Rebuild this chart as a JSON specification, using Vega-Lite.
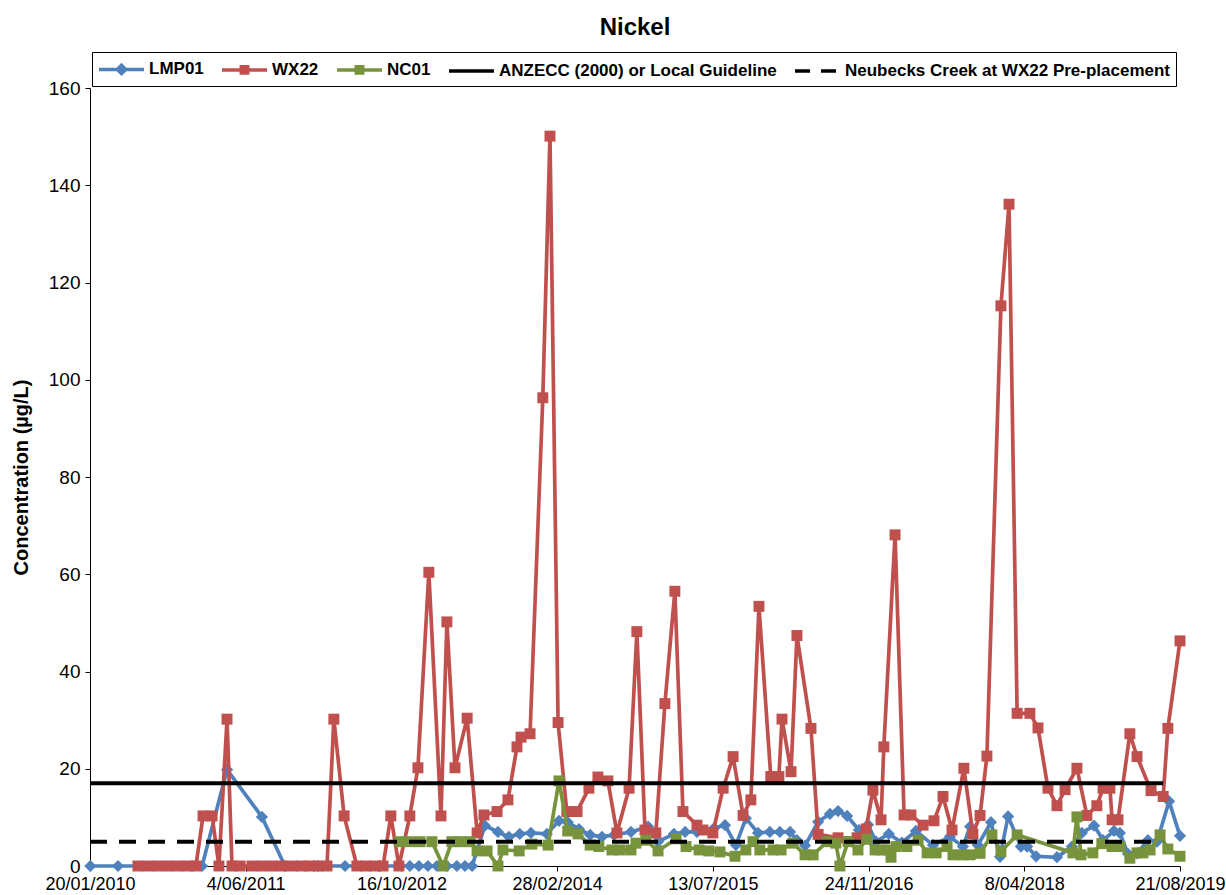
{
"$schema": "https://vega.github.io/schema/vega-lite/v6.json",
"width": 1090, "height": 778,
"autosize": {"type": "none"},
"padding": {"left": 90, "top": 88, "right": 46, "bottom": 29},
"background": "white",
"title": {"text": "Nickel", "font": "Liberation Sans", "fontSize": 24, "fontWeight": "bold", "color": "black", "anchor": "middle", "offset": 12},
"config": {"view": {"stroke": null}},
"datasets": {
"samples": [
{"series":"LMP01","date":"2010-01-21","value":0},{"series":"LMP01","date":"2010-04-20","value":0},{"series":"LMP01","date":"2011-01-15","value":0},{"series":"LMP01","date":"2011-04-05","value":19.8},{"series":"LMP01","date":"2011-07-26","value":10.1},{"series":"LMP01","date":"2011-10-08","value":0},{"series":"LMP01","date":"2012-01-22","value":0},{"series":"LMP01","date":"2012-04-18","value":0},{"series":"LMP01","date":"2012-08-08","value":0},{"series":"LMP01","date":"2012-11-12","value":0},{"series":"LMP01","date":"2012-12-11","value":0},{"series":"LMP01","date":"2013-01-09","value":0},{"series":"LMP01","date":"2013-02-07","value":0},{"series":"LMP01","date":"2013-03-11","value":0},{"series":"LMP01","date":"2013-04-12","value":0},{"series":"LMP01","date":"2013-05-08","value":0},{"series":"LMP01","date":"2013-05-31","value":0},{"series":"LMP01","date":"2013-07-11","value":8.3},{"series":"LMP01","date":"2013-08-22","value":7},{"series":"LMP01","date":"2013-09-26","value":6},{"series":"LMP01","date":"2013-10-31","value":6.6},{"series":"LMP01","date":"2013-12-06","value":6.8},{"series":"LMP01","date":"2014-01-26","value":6.6},{"series":"LMP01","date":"2014-03-06","value":9.3},{"series":"LMP01","date":"2014-04-03","value":9},{"series":"LMP01","date":"2014-05-09","value":7.6},{"series":"LMP01","date":"2014-06-14","value":6.4},{"series":"LMP01","date":"2014-07-22","value":6},{"series":"LMP01","date":"2014-08-30","value":6.4},{"series":"LMP01","date":"2014-10-23","value":7},{"series":"LMP01","date":"2014-12-17","value":8.1},{"series":"LMP01","date":"2015-01-18","value":5},{"series":"LMP01","date":"2015-03-10","value":6.6},{"series":"LMP01","date":"2015-04-15","value":7},{"series":"LMP01","date":"2015-05-23","value":7},{"series":"LMP01","date":"2015-07-17","value":7.8},{"series":"LMP01","date":"2015-08-21","value":8.4},{"series":"LMP01","date":"2015-09-25","value":4.3},{"series":"LMP01","date":"2015-10-27","value":9.8},{"series":"LMP01","date":"2015-12-05","value":6.8},{"series":"LMP01","date":"2016-01-12","value":7},{"series":"LMP01","date":"2016-02-13","value":7},{"series":"LMP01","date":"2016-03-17","value":7},{"series":"LMP01","date":"2016-04-08","value":5.3},{"series":"LMP01","date":"2016-05-04","value":4.2},{"series":"LMP01","date":"2016-06-15","value":9.1},{"series":"LMP01","date":"2016-07-23","value":10.7},{"series":"LMP01","date":"2016-08-18","value":11.3},{"series":"LMP01","date":"2016-09-16","value":10.3},{"series":"LMP01","date":"2016-10-24","value":7.4},{"series":"LMP01","date":"2016-11-22","value":8.5},{"series":"LMP01","date":"2016-12-18","value":5},{"series":"LMP01","date":"2017-01-28","value":6.6},{"series":"LMP01","date":"2017-03-11","value":4.8},{"series":"LMP01","date":"2017-04-25","value":7.2},{"series":"LMP01","date":"2017-06-19","value":4.3},{"series":"LMP01","date":"2017-08-12","value":6},{"series":"LMP01","date":"2017-09-23","value":4},{"series":"LMP01","date":"2017-10-16","value":8.1},{"series":"LMP01","date":"2017-11-10","value":4.3},{"series":"LMP01","date":"2017-12-22","value":9},{"series":"LMP01","date":"2018-01-20","value":1.9},{"series":"LMP01","date":"2018-02-15","value":10.2},{"series":"LMP01","date":"2018-03-28","value":4},{"series":"LMP01","date":"2018-04-17","value":4},{"series":"LMP01","date":"2018-05-16","value":2},{"series":"LMP01","date":"2018-07-22","value":1.8},{"series":"LMP01","date":"2018-09-08","value":4},{"series":"LMP01","date":"2018-10-10","value":6.8},{"series":"LMP01","date":"2018-11-18","value":8.3},{"series":"LMP01","date":"2018-12-17","value":5.3},{"series":"LMP01","date":"2019-01-21","value":7.2},{"series":"LMP01","date":"2019-02-09","value":6.8},{"series":"LMP01","date":"2019-03-07","value":2.5},{"series":"LMP01","date":"2019-04-05","value":2.6},{"series":"LMP01","date":"2019-05-10","value":5.3},{"series":"LMP01","date":"2019-06-08","value":5},{"series":"LMP01","date":"2019-07-17","value":13.3},{"series":"LMP01","date":"2019-08-21","value":6.2},
{"series":"WX22","date":"2010-06-23","value":0},{"series":"WX22","date":"2010-07-25","value":0},{"series":"WX22","date":"2010-08-26","value":0},{"series":"WX22","date":"2010-09-27","value":0},{"series":"WX22","date":"2010-10-29","value":0},{"series":"WX22","date":"2010-11-30","value":0},{"series":"WX22","date":"2010-12-26","value":0},{"series":"WX22","date":"2011-01-18","value":10.3},{"series":"WX22","date":"2011-02-16","value":10.3},{"series":"WX22","date":"2011-03-10","value":0},{"series":"WX22","date":"2011-04-05","value":30.2},{"series":"WX22","date":"2011-04-21","value":0},{"series":"WX22","date":"2011-05-17","value":0},{"series":"WX22","date":"2011-06-24","value":0},{"series":"WX22","date":"2011-07-26","value":0},{"series":"WX22","date":"2011-08-27","value":0},{"series":"WX22","date":"2011-09-28","value":0},{"series":"WX22","date":"2011-10-31","value":0},{"series":"WX22","date":"2011-12-01","value":0},{"series":"WX22","date":"2011-12-27","value":0},{"series":"WX22","date":"2012-01-22","value":0},{"series":"WX22","date":"2012-02-20","value":0},{"series":"WX22","date":"2012-03-13","value":30.2},{"series":"WX22","date":"2012-04-15","value":10.3},{"series":"WX22","date":"2012-05-26","value":0},{"series":"WX22","date":"2012-06-24","value":0},{"series":"WX22","date":"2012-07-23","value":0},{"series":"WX22","date":"2012-08-18","value":0},{"series":"WX22","date":"2012-09-12","value":10.3},{"series":"WX22","date":"2012-10-08","value":0},{"series":"WX22","date":"2012-11-12","value":10.3},{"series":"WX22","date":"2012-12-08","value":20.2},{"series":"WX22","date":"2013-01-12","value":60.4},{"series":"WX22","date":"2013-02-20","value":10.3},{"series":"WX22","date":"2013-03-11","value":50.2},{"series":"WX22","date":"2013-04-06","value":20.2},{"series":"WX22","date":"2013-05-15","value":30.4},{"series":"WX22","date":"2013-06-16","value":6.8},{"series":"WX22","date":"2013-07-08","value":10.5},{"series":"WX22","date":"2013-08-19","value":11.2},{"series":"WX22","date":"2013-09-23","value":13.6},{"series":"WX22","date":"2013-10-22","value":24.5},{"series":"WX22","date":"2013-11-04","value":26.5},{"series":"WX22","date":"2013-12-03","value":27.2},{"series":"WX22","date":"2014-01-13","value":96.3},{"series":"WX22","date":"2014-02-05","value":150.1},{"series":"WX22","date":"2014-03-03","value":29.5},{"series":"WX22","date":"2014-03-31","value":11.2},{"series":"WX22","date":"2014-05-03","value":11.2},{"series":"WX22","date":"2014-06-10","value":16},{"series":"WX22","date":"2014-07-09","value":18.3},{"series":"WX22","date":"2014-08-10","value":17.5},{"series":"WX22","date":"2014-09-08","value":6.8},{"series":"WX22","date":"2014-10-17","value":16},{"series":"WX22","date":"2014-11-11","value":48.2},{"series":"WX22","date":"2014-12-07","value":7.4},{"series":"WX22","date":"2015-01-11","value":6.8},{"series":"WX22","date":"2015-02-09","value":33.4},{"series":"WX22","date":"2015-03-13","value":56.5},{"series":"WX22","date":"2015-04-08","value":11.2},{"series":"WX22","date":"2015-05-23","value":8.4},{"series":"WX22","date":"2015-06-11","value":7.4},{"series":"WX22","date":"2015-07-13","value":6.8},{"series":"WX22","date":"2015-08-15","value":16},{"series":"WX22","date":"2015-09-16","value":22.5},{"series":"WX22","date":"2015-10-18","value":10.4},{"series":"WX22","date":"2015-11-12","value":13.6},{"series":"WX22","date":"2015-12-08","value":53.4},{"series":"WX22","date":"2016-01-15","value":18.4},{"series":"WX22","date":"2016-02-10","value":18.4},{"series":"WX22","date":"2016-02-20","value":30.2},{"series":"WX22","date":"2016-03-20","value":19.4},{"series":"WX22","date":"2016-04-08","value":47.4},{"series":"WX22","date":"2016-05-23","value":28.3},{"series":"WX22","date":"2016-06-15","value":6.5},{"series":"WX22","date":"2016-08-18","value":5.8},{"series":"WX22","date":"2016-10-18","value":5.8},{"series":"WX22","date":"2016-11-16","value":7.6},{"series":"WX22","date":"2016-12-08","value":15.6},{"series":"WX22","date":"2017-01-03","value":9.5},{"series":"WX22","date":"2017-01-12","value":24.5},{"series":"WX22","date":"2017-02-17","value":68.1},{"series":"WX22","date":"2017-03-18","value":10.5},{"series":"WX22","date":"2017-04-09","value":10.5},{"series":"WX22","date":"2017-05-18","value":8.4},{"series":"WX22","date":"2017-06-22","value":9.3},{"series":"WX22","date":"2017-07-21","value":14.3},{"series":"WX22","date":"2017-08-19","value":7.4},{"series":"WX22","date":"2017-09-26","value":20.1},{"series":"WX22","date":"2017-10-25","value":6.6},{"series":"WX22","date":"2017-11-17","value":10.4},{"series":"WX22","date":"2017-12-09","value":22.6},{"series":"WX22","date":"2018-01-23","value":115.2},{"series":"WX22","date":"2018-02-18","value":136.1},{"series":"WX22","date":"2018-03-16","value":31.4},{"series":"WX22","date":"2018-04-26","value":31.4},{"series":"WX22","date":"2018-05-22","value":28.4},{"series":"WX22","date":"2018-06-23","value":16},{"series":"WX22","date":"2018-07-22","value":12.4},{"series":"WX22","date":"2018-08-17","value":15.7},{"series":"WX22","date":"2018-09-24","value":20.1},{"series":"WX22","date":"2018-10-26","value":10.4},{"series":"WX22","date":"2018-11-27","value":12.4},{"series":"WX22","date":"2018-12-17","value":16},{"series":"WX22","date":"2019-01-08","value":16},{"series":"WX22","date":"2019-01-15","value":9.5},{"series":"WX22","date":"2019-02-03","value":9.5},{"series":"WX22","date":"2019-03-13","value":27.2},{"series":"WX22","date":"2019-04-05","value":22.5},{"series":"WX22","date":"2019-05-20","value":15.5},{"series":"WX22","date":"2019-06-28","value":14.3},{"series":"WX22","date":"2019-07-13","value":28.3},{"series":"WX22","date":"2019-08-21","value":46.3},
{"series":"NC01","date":"2012-10-11","value":5},{"series":"NC01","date":"2012-11-12","value":5},{"series":"NC01","date":"2012-12-15","value":5},{"series":"NC01","date":"2013-01-22","value":5},{"series":"NC01","date":"2013-02-27","value":0},{"series":"NC01","date":"2013-03-27","value":5},{"series":"NC01","date":"2013-04-22","value":5},{"series":"NC01","date":"2013-05-24","value":5},{"series":"NC01","date":"2013-06-16","value":3.1},{"series":"NC01","date":"2013-07-18","value":3.1},{"series":"NC01","date":"2013-08-22","value":0},{"series":"NC01","date":"2013-09-07","value":3.3},{"series":"NC01","date":"2013-10-29","value":3.1},{"series":"NC01","date":"2013-12-09","value":4.5},{"series":"NC01","date":"2014-01-30","value":4.3},{"series":"NC01","date":"2014-03-06","value":17.5},{"series":"NC01","date":"2014-04-03","value":7.2},{"series":"NC01","date":"2014-05-06","value":6.6},{"series":"NC01","date":"2014-06-14","value":4.3},{"series":"NC01","date":"2014-07-12","value":4},{"series":"NC01","date":"2014-08-23","value":3.3},{"series":"NC01","date":"2014-09-18","value":3.3},{"series":"NC01","date":"2014-10-23","value":3.3},{"series":"NC01","date":"2014-11-08","value":4.7},{"series":"NC01","date":"2014-12-10","value":5.3},{"series":"NC01","date":"2015-01-18","value":3.1},{"series":"NC01","date":"2015-03-17","value":5.6},{"series":"NC01","date":"2015-04-18","value":4},{"series":"NC01","date":"2015-05-30","value":3.3},{"series":"NC01","date":"2015-06-30","value":3.1},{"series":"NC01","date":"2015-08-05","value":2.9},{"series":"NC01","date":"2015-09-22","value":2},{"series":"NC01","date":"2015-10-27","value":3.3},{"series":"NC01","date":"2015-11-19","value":5},{"series":"NC01","date":"2015-12-11","value":3.3},{"series":"NC01","date":"2016-01-22","value":3.3},{"series":"NC01","date":"2016-02-17","value":3.3},{"series":"NC01","date":"2016-03-26","value":4.7},{"series":"NC01","date":"2016-05-04","value":2.3},{"series":"NC01","date":"2016-05-30","value":2.3},{"series":"NC01","date":"2016-07-14","value":5},{"series":"NC01","date":"2016-08-11","value":4.7},{"series":"NC01","date":"2016-08-24","value":0},{"series":"NC01","date":"2016-09-19","value":5},{"series":"NC01","date":"2016-10-21","value":3.3},{"series":"NC01","date":"2016-11-19","value":5.5},{"series":"NC01","date":"2016-12-15","value":3.3},{"series":"NC01","date":"2017-01-06","value":3.3},{"series":"NC01","date":"2017-01-25","value":3.3},{"series":"NC01","date":"2017-02-04","value":1.8},{"series":"NC01","date":"2017-02-20","value":4},{"series":"NC01","date":"2017-03-27","value":4},{"series":"NC01","date":"2017-05-02","value":5.3},{"series":"NC01","date":"2017-05-31","value":2.7},{"series":"NC01","date":"2017-06-29","value":2.7},{"series":"NC01","date":"2017-08-03","value":4},{"series":"NC01","date":"2017-08-22","value":2.3},{"series":"NC01","date":"2017-09-20","value":2.3},{"series":"NC01","date":"2017-10-16","value":2.3},{"series":"NC01","date":"2017-11-17","value":2.6},{"series":"NC01","date":"2017-12-25","value":6.4},{"series":"NC01","date":"2018-01-23","value":3},{"series":"NC01","date":"2018-03-16","value":6.4},{"series":"NC01","date":"2018-09-11","value":2.7},{"series":"NC01","date":"2018-09-24","value":10.1},{"series":"NC01","date":"2018-10-07","value":2.3},{"series":"NC01","date":"2018-11-14","value":2.7},{"series":"NC01","date":"2018-12-13","value":4.6},{"series":"NC01","date":"2019-01-15","value":4},{"series":"NC01","date":"2019-02-09","value":4},{"series":"NC01","date":"2019-03-13","value":1.6},{"series":"NC01","date":"2019-04-05","value":2.7},{"series":"NC01","date":"2019-04-24","value":2.7},{"series":"NC01","date":"2019-05-17","value":3.3},{"series":"NC01","date":"2019-06-18","value":6.4},{"series":"NC01","date":"2019-07-13","value":3.5},{"series":"NC01","date":"2019-08-21","value":2}
],
"guides": [
{"series":"ANZECC (2000) or Local Guideline","date":"2010-01-20","end":"2019-06-28","value":17},
{"series":"Neubecks Creek at WX22 Pre-placement","date":"2010-01-20","end":"2019-06-28","value":5}
]
},
"encoding": {
"x": {"field": "date", "type": "temporal",
 "scale": {"type": "utc", "domain": [{"year": 2010, "month": 1, "date": 20, "utc": true}, {"year": 2019, "month": 8, "date": 21, "utc": true}]},
 "axis": {"title": null, "grid": false, "labelExpr": "utcFormat(datum.value, '%-d/%m/%Y')",
  "values": [{"year": 2010, "month": 1, "date": 20, "utc": true}, {"year": 2011, "month": 6, "date": 4, "utc": true}, {"year": 2012, "month": 10, "date": 16, "utc": true}, {"year": 2014, "month": 2, "date": 28, "utc": true}, {"year": 2015, "month": 7, "date": 13, "utc": true}, {"year": 2016, "month": 11, "date": 24, "utc": true}, {"year": 2018, "month": 4, "date": 8, "utc": true}, {"year": 2019, "month": 8, "date": 21, "utc": true}],
  "labelFont": "Liberation Sans", "labelFontSize": 18, "labelColor": "black", "labelFlush": false, "labelOverlap": false, "labelBound": false,
  "domainColor": "black", "domainWidth": 1, "tickColor": "black", "tickSize": 5, "labelPadding": 4}},
"y": {"field": "value", "type": "quantitative",
 "scale": {"domain": [0, 160], "nice": false, "zero": true},
 "axis": {"title": "Concentration (µg/L)", "titleFont": "Liberation Sans", "titleFontSize": 20, "titleFontWeight": "bold", "titleColor": "black", "titlePadding": 17,
  "grid": false, "values": [0, 20, 40, 60, 80, 100, 120, 140, 160],
  "labelFont": "Liberation Sans", "labelFontSize": 19, "labelColor": "black", "labelPadding": 5,
  "domainColor": "black", "domainWidth": 1, "tickColor": "black", "tickSize": 5}},
"color": {"field": "series", "type": "nominal",
 "scale": {"domain": ["LMP01", "WX22", "NC01", "ANZECC (2000) or Local Guideline", "Neubecks Creek at WX22 Pre-placement"], "range": ["#4F81BD", "#C0504D", "#77933C", "#000000", "#000000"]},
 "legend": {"orient": "none", "legendX": 2, "legendY": -36, "direction": "horizontal", "columns": 5, "title": null,
  "labelFont": "Liberation Sans", "labelFontSize": 17, "labelFontWeight": "bold", "labelColor": "black", "labelLimit": 600,
  "symbolSize": 400, "symbolStrokeWidth": 3.5, "columnPadding": 11, "labelOffset": 28, "padding": 5,
  "strokeColor": "black", "fillColor": "white",
  "encode": {"symbols": {"update": {
   "shape": {"signal": "datum.value === 'LMP01' ? 'M-1,0H3.5M1.25,-0.42L1.67,0L1.25,0.42L0.83,0Z' : (datum.value === 'WX22' || datum.value === 'NC01') ? 'M-1,0H3.5M0.93,-0.32H1.57V0.32H0.93Z' : datum.value === 'ANZECC (2000) or Local Guideline' ? 'M-1,0H3.5' : 'M-1,0H0.5M1.6,0H3.1'"},
   "fill": {"signal": "datum.value === 'LMP01' ? '#4F81BD' : datum.value === 'WX22' ? '#C0504D' : datum.value === 'NC01' ? '#77933C' : '#000000'"},
   "stroke": {"signal": "datum.value === 'LMP01' ? '#4F81BD' : datum.value === 'WX22' ? '#C0504D' : datum.value === 'NC01' ? '#77933C' : '#000000'"},
   "strokeWidth": {"value": 3.5},
   "opacity": {"value": 1}
  }}}}}
},
"layer": [
{"data": {"name": "samples"}, "transform": [{"filter": "datum.series === 'LMP01'"}],
 "mark": {"type": "line", "strokeWidth": 3.7, "point": {"shape": "diamond", "size": 150, "filled": true, "opacity": 1}}},
{"data": {"name": "samples"}, "transform": [{"filter": "datum.series === 'WX22'"}],
 "mark": {"type": "line", "strokeWidth": 3.7, "point": {"shape": "square", "size": 120, "filled": true, "opacity": 1}}},
{"data": {"name": "samples"}, "transform": [{"filter": "datum.series === 'NC01'"}],
 "mark": {"type": "line", "strokeWidth": 3.7, "point": {"shape": "square", "size": 120, "filled": true, "opacity": 1}}},
{"data": {"name": "guides"}, "transform": [{"filter": "datum.series === 'ANZECC (2000) or Local Guideline'"}],
 "mark": {"type": "rule", "strokeWidth": 4},
 "encoding": {"x2": {"field": "end"}}},
{"data": {"name": "guides"}, "transform": [{"filter": "datum.series === 'Neubecks Creek at WX22 Pre-placement'"}],
 "mark": {"type": "rule", "strokeWidth": 4, "strokeDash": [17, 12]},
 "encoding": {"x2": {"field": "end"}}}
]
}
